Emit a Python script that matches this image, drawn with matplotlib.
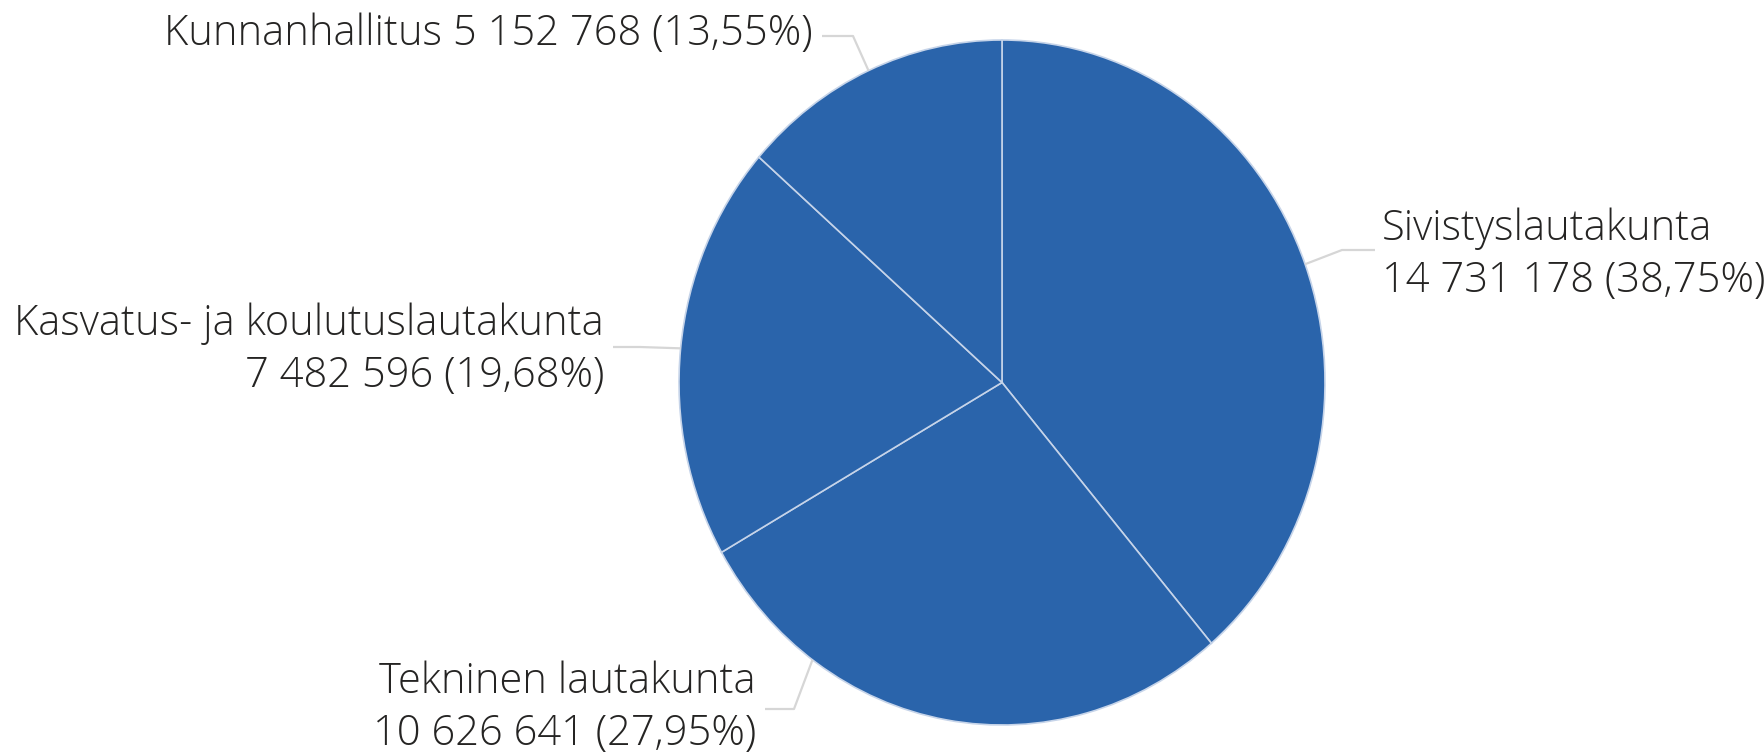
import numpy as np
import matplotlib
matplotlib.use('Agg')
from matplotlib import pyplot as plt

# data
names = ['Sivistyslautakunta', 'Tekninen lautakunta',
         'Kasvatus- ja koulutuslautakunta', 'Kunnanhallitus']
values = [14731178, 10626641, 7482596, 5152768]
pct_text = ['38,75%', '27,95%', '19,68%', '13,55%']

plt.rcParams['font.family'] = ['Open Sans', 'DejaVu Sans']

W, H = 1765, 753
fig = plt.figure(figsize=(W / 100, H / 100), dpi=100)

# pie area (pixels): x 679..1325, y 40..725
px0, px1, py0, py1 = 679, 1325, 40, 725
ax = fig.add_axes([px0 / W, (H - py1) / H, (px1 - px0) / W, (py1 - py0) / H])
ax.pie(values, startangle=90, counterclock=False, colors=['#2a64ab'] * 4,
       wedgeprops=dict(edgecolor='#c6d4e9', linewidth=1.2))
ax.set_aspect('auto')
ax.set_xlim(-1, 1)
ax.set_ylim(-1, 1)
ax.axis('off')

cx, cy = (px0 + px1) / 2, (py0 + py1) / 2
rx, ry = (px1 - px0) / 2, (py1 - py0) / 2

ov = fig.add_axes([0, 0, 1, 1])
ov.set_xlim(0, W)
ov.set_ylim(H, 0)
ov.axis('off')
ov.patch.set_alpha(0)


def fmt(v):
    return '{:,}'.format(v).replace(',', ' ')


total = sum(values)
mids = []
a = 90.0
for v in values:
    span = v / total * 360
    mids.append(a - span / 2)
    a -= span

# leader layout: angle offset, elbow, end, text pos / alignment
layout = [
    dict(da=0, elbow=(1342, 250), end=(1375, 250), txt=(1382, 255), ha='left',
         two=True),
    dict(da=-26, elbow=(794, 709), end=(765, 709), txt=(756, 708), ha='right',
         two=True),
    dict(da=0, elbow=(640, 347), end=(613, 347), txt=(604, 350), ha='right',
         two=True),
    dict(da=0, elbow=(853, 36), end=(822, 36), txt=(813, 34), ha='right',
         two=False),
]

for name, v, p, m, L in zip(names, values, pct_text, mids, layout):
    ang = np.radians(m + L['da'])
    sx = cx + rx * np.cos(ang)
    sy = cy - ry * np.sin(ang)
    ov.plot([sx, L['elbow'][0], L['end'][0]], [sy, L['elbow'][1], L['end'][1]],
            color='#d6d6d6', lw=1.6, solid_capstyle='butt')
    if L['two']:
        s = name + '\n' + fmt(v) + ' (' + p + ')'
    else:
        s = name + ' ' + fmt(v) + ' (' + p + ')'
    ov.text(L['txt'][0], L['txt'][1], s, ha=L['ha'], va='center',
            fontsize=30, color='#252423', linespacing=1.3,
            multialignment=L['ha'], fontweight='light')

fig.savefig('out.png', dpi=100)
